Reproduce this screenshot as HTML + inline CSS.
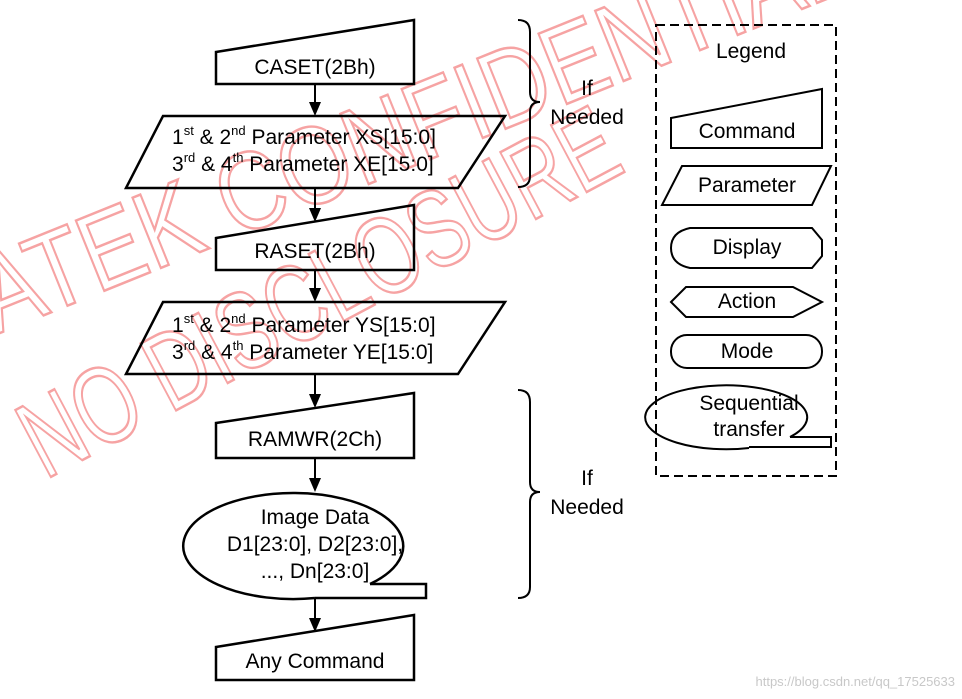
<!DOCTYPE html>
<html><head><meta charset="utf-8"><style>
body{margin:0;background:#fff;}
svg{display:block;font-family:"Liberation Sans",Arial,sans-serif;}
</style></head><body>
<svg width="962" height="699" viewBox="0 0 962 699" xmlns="http://www.w3.org/2000/svg">
<g fill="none" stroke="#f6a3a3" stroke-width="2.5" font-size="110" font-family="Liberation Sans,sans-serif">
<text x="-5" y="335" transform="rotate(-22 -5 335)" textLength="930" lengthAdjust="spacingAndGlyphs">ATEK CONFIDENTIAL</text>
<text x="45" y="480" transform="rotate(-28 45 480)" textLength="660" lengthAdjust="spacingAndGlyphs">NO DISCLOSURE</text>
</g>
<g fill="none" stroke="#000" stroke-width="2.5">
<path d="M216,52 L414,20 L414,84 L216,84 Z"/>
<path d="M163,116 L505,116 L458,188 L126,188 Z"/>
<path d="M216,238 L414,205 L414,270 L216,270 Z"/>
<path d="M163,302 L505,302 L458,374 L126,374 Z"/>
<path d="M216,423 L414,393 L414,458 L216,458 Z"/>
<path d="M370,584 A110,53 0 1 0 315,598"/>
<path d="M370,584 L426,584 L426,598 L315,598"/>
<path d="M216,647 L414,615 L414,680 L216,680 Z"/>
</g>
<g stroke="#000" stroke-width="2" fill="none">
<line x1="315" y1="84" x2="315" y2="104"/>
<line x1="315" y1="188" x2="315" y2="210"/>
<line x1="315" y1="270" x2="315" y2="290"/>
<line x1="315" y1="374" x2="315" y2="396"/>
<line x1="315" y1="458" x2="315" y2="480"/>
<line x1="315" y1="598" x2="315" y2="620"/>
<path d="M518,20 Q530,20 530,32 L530,92 Q530,102 540,102 Q530,102 530,112 L530,176 Q530,187 518,187"/>
<path d="M518,390 Q530,390 530,402 L530,482 Q530,492 540,492 Q530,492 530,502 L530,587 Q530,598 518,598"/>
</g>
<g fill="#000">
<path d="M309,102 L321,102 L315,116 Z"/>
<path d="M309,208 L321,208 L315,222 Z"/>
<path d="M309,288 L321,288 L315,302 Z"/>
<path d="M309,394 L321,394 L315,408 Z"/>
<path d="M309,478 L321,478 L315,492 Z"/>
<path d="M309,618 L321,618 L315,632 Z"/>
</g>
<g font-size="21" text-anchor="middle" fill="#000">
<text x="315" y="74">CASET(2Bh)</text>
<text x="315" y="258">RASET(2Bh)</text>
<text x="315" y="446">RAMWR(2Ch)</text>
<text x="315" y="668">Any Command</text>
<text x="315" y="524">Image Data</text>
<text x="315" y="551">D1[23:0], D2[23:0],</text>
<text x="315" y="578">..., Dn[23:0]</text>
<text x="587" y="95">If</text><text x="587" y="124">Needed</text>
<text x="587" y="485">If</text><text x="587" y="514">Needed</text>
</g>
<g font-size="21" fill="#000">
<text x="172" y="144">1<tspan font-size="13" dy="-9">st</tspan><tspan dy="9"> &amp; 2</tspan><tspan font-size="13" dy="-9">nd</tspan><tspan dy="9"> Parameter XS[15:0]</tspan></text>
<text x="172" y="171">3<tspan font-size="13" dy="-9">rd</tspan><tspan dy="9"> &amp; 4</tspan><tspan font-size="13" dy="-9">th</tspan><tspan dy="9"> Parameter XE[15:0]</tspan></text>
<text x="172" y="332">1<tspan font-size="13" dy="-9">st</tspan><tspan dy="9"> &amp; 2</tspan><tspan font-size="13" dy="-9">nd</tspan><tspan dy="9"> Parameter YS[15:0]</tspan></text>
<text x="172" y="359">3<tspan font-size="13" dy="-9">rd</tspan><tspan dy="9"> &amp; 4</tspan><tspan font-size="13" dy="-9">th</tspan><tspan dy="9"> Parameter YE[15:0]</tspan></text>
</g>
<rect x="656" y="25" width="180" height="451" fill="none" stroke="#000" stroke-width="2" stroke-dasharray="9,5"/>
<g fill="none" stroke="#000" stroke-width="2">
<path d="M671,118 L822,89 L822,148 L671,148 Z"/>
<path d="M682,166 L831,166 L812,205 L662,205 Z"/>
<path d="M690,228 L812,228 L822,240 L822,256 L812,268 L690,268 Q671,264 671,248 Q671,232 690,228 Z"/>
<path d="M671,302 L686,287 L793,287 L822,302 L793,317 L686,317 Z"/>
<rect x="671" y="335" width="151" height="33" rx="16"/>
<path d="M790,437 A81,32 0 1 0 749,448"/>
<path d="M790,437 L831,437 L831,447 L749,447"/>
</g>
<g font-size="21" text-anchor="middle" fill="#000">
<text x="751" y="58">Legend</text>
<text x="747" y="138">Command</text>
<text x="747" y="192">Parameter</text>
<text x="747" y="254">Display</text>
<text x="747" y="308">Action</text>
<text x="747" y="358">Mode</text>
<text x="749" y="410">Sequential</text>
<text x="749" y="436">transfer</text>
</g>
<text x="955" y="686" text-anchor="end" font-size="13" fill="#c8c8c8">https://blog.csdn.net/qq_17525633</text>
</svg>
</body></html>
